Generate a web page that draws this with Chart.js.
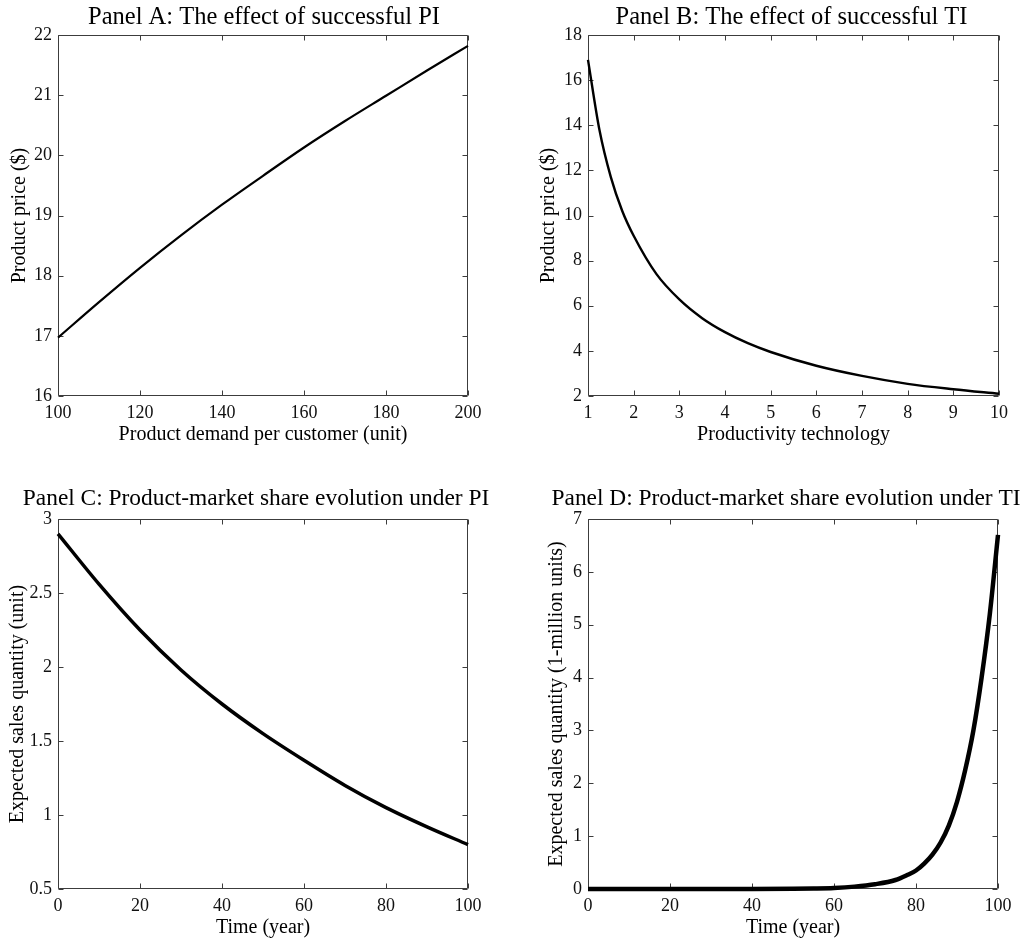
<!DOCTYPE html>
<html>
<head>
<meta charset="utf-8">
<script src="https://cdn.jsdelivr.net/npm/chart.js@4.4.1/dist/chart.umd.min.js"></script>
<style>
  html, body { margin: 0; padding: 0; background: #fff; overflow: hidden; }
  #wrap { position: relative; width: 1021px; height: 942px; }
  canvas { position: absolute; }
</style>
</head>
<body>
<div id="wrap">
  <canvas id="cA" width="510" height="471" style="left:0;top:0"></canvas>
  <canvas id="cB" width="511" height="471" style="left:510px;top:0"></canvas>
  <canvas id="cC" width="510" height="471" style="left:0;top:471px"></canvas>
  <canvas id="cD" width="511" height="471" style="left:510px;top:471px"></canvas>
</div>
<script>
// ---------- Data ----------
// Panel A: product price vs product demand per customer
const demandA = [100, 110, 120, 130, 140, 150, 160, 170, 180, 190, 200];
const priceA  = [16.97, 17.56, 18.13, 18.67, 19.18, 19.66, 20.13, 20.57, 20.99, 21.41, 21.82];
const xTicksA = [100, 120, 140, 160, 180, 200];
const yTicksA = [16, 17, 18, 19, 20, 21, 22];

// Panel B: product price vs productivity technology
const techB  = [1, 1.25, 1.5, 1.75, 2, 2.5, 3, 3.5, 4, 4.5, 5, 6, 7, 8, 9, 10];
const priceB = [16.9, 13.8, 11.7, 10.2, 9.1, 7.4, 6.28, 5.45, 4.83, 4.34, 3.95, 3.34, 2.89, 2.54, 2.3, 2.1];
const xTicksB = [1, 2, 3, 4, 5, 6, 7, 8, 9, 10];
const yTicksB = [2, 4, 6, 8, 10, 12, 14, 16, 18];

// Panel C: expected sales quantity (unit) under PI
const timeC  = [0, 10, 20, 30, 40, 50, 60, 70, 80, 90, 100];
const salesC = [2.9, 2.56, 2.25, 1.98, 1.75, 1.55, 1.37, 1.2, 1.05, 0.92, 0.8];
const xTicksC = [0, 20, 40, 60, 80, 100];
const yTicksC = [0.5, 1, 1.5, 2, 2.5, 3];

// Panel D: expected sales quantity (1-million units) under TI
const timeD  = [0, 10, 20, 30, 40, 50, 55, 60, 65, 70, 75, 78, 80, 82, 84, 86, 88, 90, 92, 94, 96, 98, 100];
const salesD = [0, 0, 0, 0, 0.001, 0.005, 0.01, 0.02, 0.045, 0.09, 0.17, 0.27, 0.35, 0.48, 0.65, 0.88, 1.2, 1.65, 2.25, 3.0, 4.0, 5.2, 6.7];
const xTicksD = [0, 20, 40, 60, 80, 100];
const yTicksD = [0, 1, 2, 3, 4, 5, 6, 7];

// ---------- Helpers ----------
const FONT = "'Liberation Serif', 'Times New Roman', serif";

const boxPlugin = {
  id: 'boxTicks',
  afterLayout(chart, args, opts) {
    // widen the title box so long titles are not squeezed to the plot width
    const tb = chart.titleBlock;
    if (tb) {
      const a = chart.chartArea;
      const c = (a.left + a.right) / 2 + (opts.titleShift || 0);
      tb.left = c - 300; tb.right = c + 300; tb.width = 600;
    }
  },
  beforeDatasetsDraw(chart) {
    const ctx = chart.ctx;
    const a = chart.chartArea;
    const xs = chart.scales.x, ys = chart.scales.y;
    const L = Math.round(a.left) + 0.5, R = Math.round(a.right) - 0.5;
    const T = Math.round(a.top) + 0.5, B = Math.round(a.bottom) - 0.5;
    ctx.save();
    ctx.strokeStyle = '#3c3c3c';
    ctx.lineWidth = 1;
    ctx.beginPath();
    ctx.rect(L, T, R - L, B - T);
    const tl = 5;
    xs.ticks.forEach(t => {
      const px = Math.round(xs.getPixelForValue(t.value)) + 0.5;
      ctx.moveTo(px, B); ctx.lineTo(px, B - tl);
      ctx.moveTo(px, T); ctx.lineTo(px, T + tl);
    });
    ys.ticks.forEach(t => {
      const py = Math.round(ys.getPixelForValue(t.value)) + 0.5;
      ctx.moveTo(L, py); ctx.lineTo(L + tl, py);
      ctx.moveTo(R, py); ctx.lineTo(R - tl, py);
    });
    ctx.stroke();
    ctx.restore();
  }
};

function makeChart(id, cfg) {
  const pts = cfg.xs.map((x, i) => ({ x: x, y: cfg.ys[i] }));
  return new Chart(document.getElementById(id), {
    type: 'line',
    data: { datasets: [{
      data: pts,
      borderColor: '#000',
      borderWidth: cfg.lw,
      pointRadius: 0,
      fill: false,
      cubicInterpolationMode: 'monotone',
      clip: false
    }]},
    options: {
      responsive: false,
      animation: false,
      events: [],
      layout: { padding: { left: 0, right: cfg.padRight, top: 0, bottom: 0 } },
      plugins: {
        legend: { display: false },
        tooltip: { enabled: false },
        boxTicks: { titleShift: cfg.titleShift },
        title: {
          display: true,
          text: cfg.title,
          fullSize: false,
          color: '#000',
          font: { family: FONT, size: cfg.titleSize, weight: 'normal', lineHeight: 1.2 },
          padding: { top: cfg.titleTop, bottom: cfg.titleBottom }
        }
      },
      scales: {
        x: {
          type: 'linear',
          min: cfg.xMin, max: cfg.xMax,
          grid: { display: false, drawTicks: false },
          border: { display: false },
          afterBuildTicks: s => { s.ticks = cfg.xTicks.map(v => ({ value: v })); },
          afterFit: s => { s.height = cfg.xHeight; },
          ticks: {
            color: '#111', padding: 6, maxRotation: 0, autoSkip: false,
            font: { family: FONT, size: 18 },
            callback: v => String(v)
          },
          title: {
            display: true, text: cfg.xTitle, color: '#000',
            font: { family: FONT, size: 20 },
            padding: { top: 0, bottom: cfg.xTitlePad }
          }
        },
        y: {
          type: 'linear',
          min: cfg.yMin, max: cfg.yMax,
          grid: { display: false, drawTicks: false },
          border: { display: false },
          afterBuildTicks: s => { s.ticks = cfg.yTicks.map(v => ({ value: v })); },
          afterFit: s => { s.width = cfg.yWidth; },
          ticks: {
            color: '#111', padding: 6, autoSkip: false,
            font: { family: FONT, size: 18 },
            callback: v => String(v)
          },
          title: {
            display: true, text: cfg.yTitle, color: '#000',
            font: { family: FONT, size: 20 },
            padding: { top: cfg.yTitlePad, bottom: 0 }
          }
        }
      }
    },
    plugins: [boxPlugin]
  });
}

makeChart('cA', {
  xs: demandA, ys: priceA, lw: 2.2,
  title: 'Panel A: The effect of successful PI', titleSize: 24.5,
  xTitle: 'Product demand per customer (unit)', yTitle: 'Product price ($)',
  xMin: 100, xMax: 200, yMin: 16, yMax: 22, xTicks: xTicksA, yTicks: yTicksA,
  yWidth: 58, xHeight: 75, padRight: 42, titleTop: 3.3, titleBottom: 2.3,
  xTitlePad: 24, yTitlePad: 8, titleShift: 1
});

makeChart('cB', {
  xs: techB, ys: priceB, lw: 2.4,
  title: 'Panel B: The effect of successful TI', titleSize: 24.5,
  xTitle: 'Productivity technology', yTitle: 'Product price ($)',
  xMin: 1, xMax: 10, yMin: 2, yMax: 18, xTicks: xTicksB, yTicks: yTicksB,
  yWidth: 78, xHeight: 75, padRight: 22, titleTop: 3.3, titleBottom: 2.3,
  xTitlePad: 24, yTitlePad: 27, titleShift: -2
});

makeChart('cC', {
  xs: timeC, ys: salesC, lw: 3.5,
  title: 'Panel C: Product-market share evolution under PI', titleSize: 23.4,
  xTitle: 'Time (year)', yTitle: 'Expected sales quantity (unit)',
  xMin: 0, xMax: 100, yMin: 0.5, yMax: 3, xTicks: xTicksC, yTicks: yTicksC,
  yWidth: 58, xHeight: 53, padRight: 42, titleTop: 13.96, titleBottom: 5.96,
  xTitlePad: 2, yTitlePad: 6, titleShift: -7
});

makeChart('cD', {
  xs: timeD, ys: salesD, lw: 4.5,
  title: 'Panel D: Product-market share evolution under TI', titleSize: 23.4,
  xTitle: 'Time (year)', yTitle: 'Expected sales quantity (1-million units)',
  xMin: 0, xMax: 100, yMin: 0, yMax: 7, xTicks: xTicksD, yTicks: yTicksD,
  yWidth: 78, xHeight: 53, padRight: 23, titleTop: 13.96, titleBottom: 5.96,
  xTitlePad: 2, yTitlePad: 35, titleShift: -7
});
</script>
</body>
</html>
